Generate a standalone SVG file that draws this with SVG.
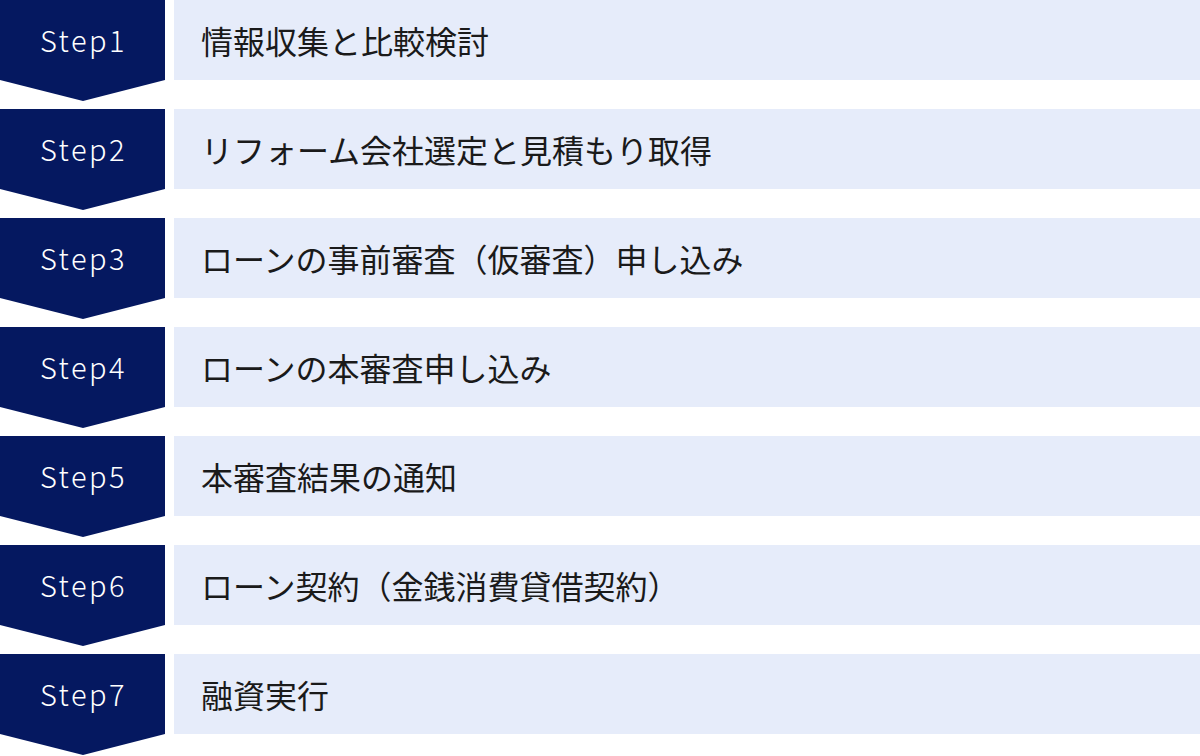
<svg xmlns="http://www.w3.org/2000/svg" width="1200" height="756" viewBox="0 0 1200 756">
<defs>
<style>
.chev{fill:#051860}
.box{fill:#E6ECFA}
.st{font-family:"Noto Sans CJK JP","Noto Sans",sans-serif;font-size:29px;font-weight:300;fill:#ffffff;text-anchor:middle;letter-spacing:2.5px}
.lb{font-family:"Noto Sans CJK JP","Noto Sans",sans-serif;font-size:32px;fill:#1a1a1a}
</style>
<path id="chevShape" d="M0 0H165V80L83 101L0 80Z"/>
</defs>
<rect width="1200" height="756" fill="#ffffff"/>
<g id="connectors"></g>
<g id="step1" transform="translate(0,0)"><use href="#chevShape" class="chev"/><rect class="box" x="174" y="0" width="1026" height="80"/><text class="st" x="83.5" y="52">Step1</text><text class="lb" x="201" y="54">情報収集と比較検討</text></g>
<g id="step2" transform="translate(0,109)"><use href="#chevShape" class="chev"/><rect class="box" x="174" y="0" width="1026" height="80"/><text class="st" x="83.5" y="52">Step2</text><text class="lb" x="201" y="54">リフォーム会社選定と見積もり取得</text></g>
<g id="step3" transform="translate(0,218)"><use href="#chevShape" class="chev"/><rect class="box" x="174" y="0" width="1026" height="80"/><text class="st" x="83.5" y="52">Step3</text><text class="lb" x="201" y="54">ローンの事前審査（仮審査）申し込み</text></g>
<g id="step4" transform="translate(0,327)"><use href="#chevShape" class="chev"/><rect class="box" x="174" y="0" width="1026" height="80"/><text class="st" x="83.5" y="52">Step4</text><text class="lb" x="201" y="54">ローンの本審査申し込み</text></g>
<g id="step5" transform="translate(0,436)"><use href="#chevShape" class="chev"/><rect class="box" x="174" y="0" width="1026" height="80"/><text class="st" x="83.5" y="52">Step5</text><text class="lb" x="201" y="54">本審査結果の通知</text></g>
<g id="step6" transform="translate(0,545)"><use href="#chevShape" class="chev"/><rect class="box" x="174" y="0" width="1026" height="80"/><text class="st" x="83.5" y="52">Step6</text><text class="lb" x="201" y="54">ローン契約（金銭消費貸借契約）</text></g>
<g id="step7" transform="translate(0,654)"><use href="#chevShape" class="chev"/><rect class="box" x="174" y="0" width="1026" height="80"/><text class="st" x="83.5" y="52">Step7</text><text class="lb" x="201" y="54">融資実行</text></g>
</svg>
